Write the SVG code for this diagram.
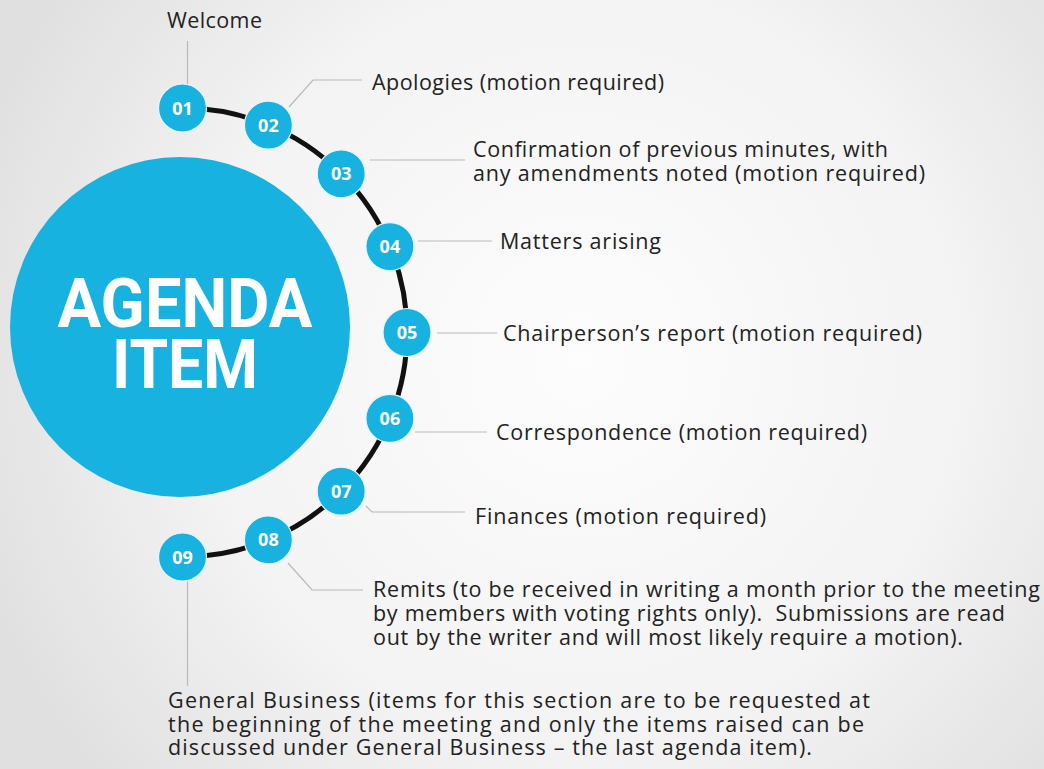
<svg xmlns="http://www.w3.org/2000/svg" width="1044" height="769" viewBox="0 0 1044 769">
<defs>
<radialGradient id="bg" cx="580" cy="360" r="640" gradientUnits="userSpaceOnUse">
<stop offset="0" stop-color="#fdfdfd"/>
<stop offset="0.6" stop-color="#f3f3f3"/>
<stop offset="1" stop-color="#e0e0e0"/>
</radialGradient>
<style>
.lbl{font-family:"Open Sans","Noto Sans","Liberation Sans",sans-serif;font-size:21.5px;fill:#222;}
.num{font-family:"Open Sans","Noto Sans","Liberation Sans",sans-serif;font-size:18px;font-weight:700;fill:#fff;text-anchor:middle;}
.dot{fill:#17b2df;stroke:#e6f6fb;stroke-width:1.2;}
.lead{fill:none;stroke:#b9b9b9;stroke-width:1.2;}
.big{font-family:Roboto,"Open Sans","Liberation Sans",sans-serif;font-size:68px;font-weight:700;fill:#fff;text-anchor:middle;}
</style>
</defs>
<rect width="1044" height="769" fill="url(#bg)"/>
<g id="agenda-circle">
<circle cx="180" cy="327" r="170" fill="#17b2df"/>
<text class="big"><tspan x="185" y="327" textLength="255" lengthAdjust="spacingAndGlyphs">AGENDA</tspan><tspan x="185" y="388" textLength="146" lengthAdjust="spacingAndGlyphs">ITEM</tspan></text>
</g>
<g id="connectors">
<path d="M182.5 108 A224.5 224.5 0 0 1 182.5 557" fill="none" stroke="#111" stroke-width="5"/>
<path class="lead" d="M187.5 41 V84"/>
<path class="lead" d="M289 107 L313 80 H362"/>
<path class="lead" d="M370 160 H465"/>
<path class="lead" d="M418 241 H492"/>
<path class="lead" d="M437 333 H497"/>
<path class="lead" d="M415 432 H487"/>
<path class="lead" d="M366 506 L372 512 H465"/>
<path class="lead" d="M288 563 L312 590 H363"/>
<path class="lead" d="M187.5 581 V686"/>
</g>
<g id="item-01"><circle class="dot" cx="182.5" cy="108" r="24"/><text class="num" x="182.5" y="114.5">01</text>
<text class="lbl" x="167" y="28" textLength="95">Welcome</text></g>
<g id="item-02"><circle class="dot" cx="268.4" cy="125.1" r="24"/><text class="num" x="268.4" y="131.6">02</text>
<text class="lbl" x="372" y="90" textLength="292">Apologies (motion required)</text></g>
<g id="item-03"><circle class="dot" cx="341.2" cy="173.8" r="24"/><text class="num" x="341.2" y="180.3">03</text>
<text class="lbl"><tspan x="473" y="157" textLength="415">Confirmation of previous minutes, with</tspan><tspan x="473" y="181" textLength="452">any amendments noted (motion required)</tspan></text></g>
<g id="item-04"><circle class="dot" cx="389.9" cy="246.6" r="24"/><text class="num" x="389.9" y="253.1">04</text>
<text class="lbl" x="500" y="249" textLength="161">Matters arising</text></g>
<g id="item-05"><circle class="dot" cx="407" cy="332.5" r="24"/><text class="num" x="407" y="339">05</text>
<text class="lbl" x="503" y="341" textLength="419">Chairperson’s report (motion required)</text></g>
<g id="item-06"><circle class="dot" cx="389.9" cy="418.4" r="24"/><text class="num" x="389.9" y="424.9">06</text>
<text class="lbl" x="496" y="440" textLength="371">Correspondence (motion required)</text></g>
<g id="item-07"><circle class="dot" cx="341.2" cy="491.2" r="24"/><text class="num" x="341.2" y="497.7">07</text>
<text class="lbl" x="475" y="524" textLength="291">Finances (motion required)</text></g>
<g id="item-08"><circle class="dot" cx="268.4" cy="539.9" r="24"/><text class="num" x="268.4" y="546.4">08</text>
<text class="lbl"><tspan x="373" y="597" textLength="667">Remits (to be received in writing a month prior to the meeting</tspan><tspan x="373" y="621" textLength="632">by members with voting rights only).&#160; Submissions are read</tspan><tspan x="373" y="645" textLength="590">out by the writer and will most likely require a motion).</tspan></text></g>
<g id="item-09"><circle class="dot" cx="182.5" cy="557" r="24"/><text class="num" x="182.5" y="563.5">09</text>
<text class="lbl"><tspan x="168" y="708" textLength="702">General Business (items for this section are to be requested at</tspan><tspan x="168" y="732" textLength="696">the beginning of the meeting and only the items raised can be</tspan><tspan x="168" y="755" textLength="644">discussed under General Business – the last agenda item).</tspan></text></g>
</svg>
